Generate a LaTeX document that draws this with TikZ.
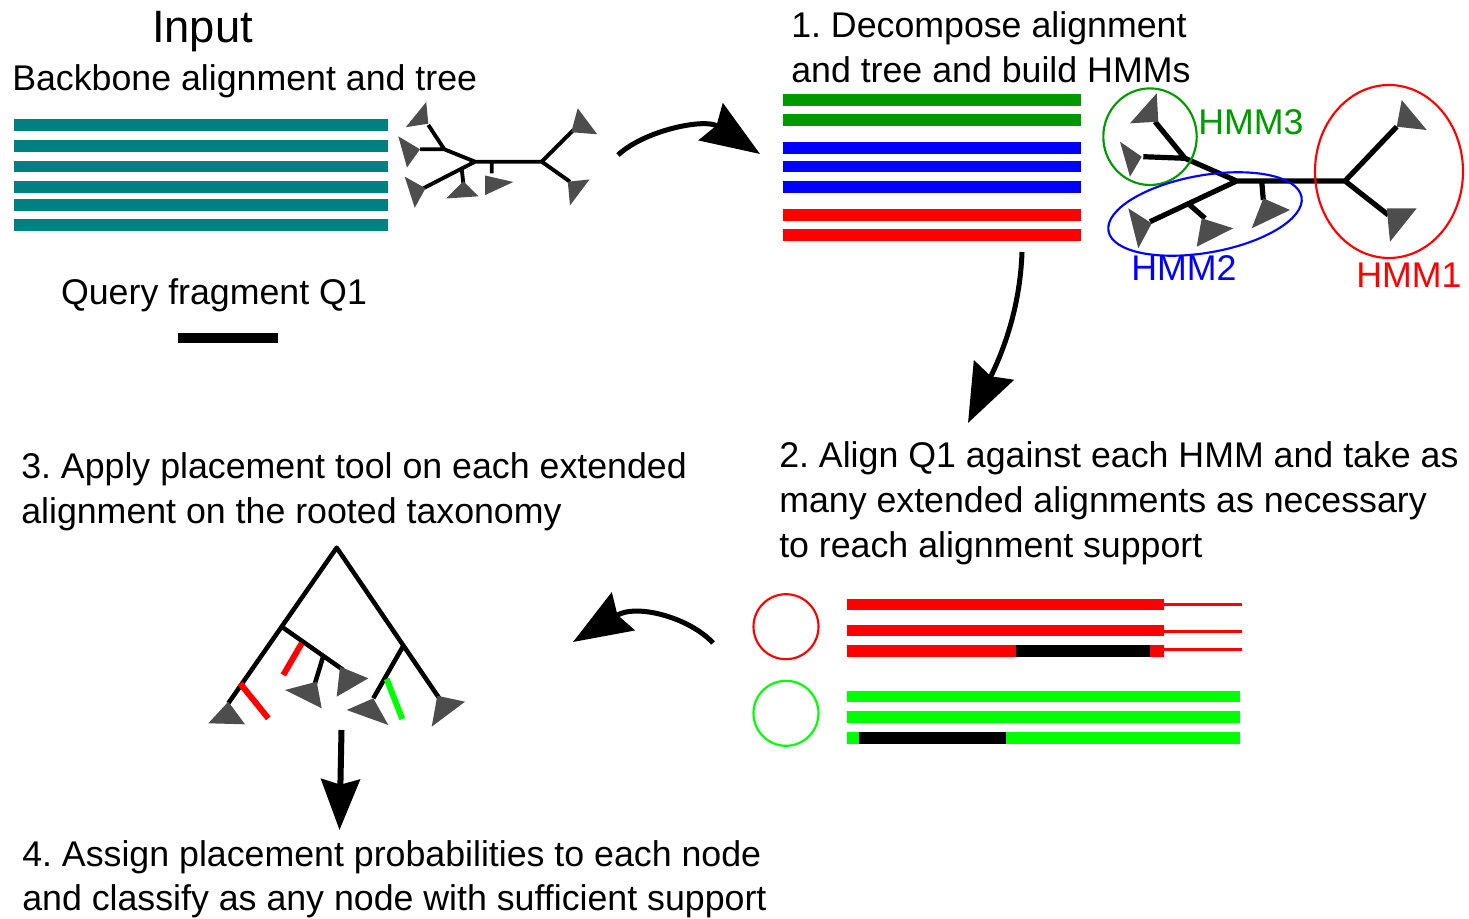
\documentclass[tikz,border=0pt]{standalone}
\usepackage{fontspec}
\setmainfont{Liberation Sans}
\frenchspacing
\usetikzlibrary{arrows.meta}
\definecolor{alnteal}{HTML}{008080}
\definecolor{hmmgreen}{HTML}{009900}
\definecolor{hmmblue}{HTML}{0000FF}
\definecolor{hmmred}{HTML}{FF0000}
\definecolor{litegreen}{HTML}{00FF00}
\definecolor{cladegray}{HTML}{4D4D4D}
\begin{document}
\begin{tikzpicture}[x=0.75pt,y=-0.75pt,
  txt/.style={font=\fontsize{26.8}{33.75}\selectfont, inner sep=0pt, anchor=base west},
  bar/.style={line width=8.6pt},
  thinbar/.style={line width=2.25pt},
  branch/.style={line width=2.9pt, line join=round},
  bigbranch/.style={line width=3.9pt, line join=round},
  midbranch/.style={line width=3.4pt, line join=round},
  clade/.style={fill=cladegray},
  ring/.style={line width=1.6pt},
  marker/.style={line width=4.5pt},
  flow/.style={line width=3.75pt, -{Stealth[length=44pt,width=33pt,inset=5pt]}},
  downflow/.style={line width=4.5pt, -{Stealth[length=38pt,width=29pt,inset=4pt]}}]
\useasboundingbox (0,0) rectangle (1469,919);

% ---------- Input ----------
\node[font=\fontsize{34}{40}\selectfont, inner sep=0pt, anchor=base] (title) at (202.5,43) {Input};
\node[txt] (backbone) at (12,91) {Backbone alignment and tree};
\foreach \y in {125,146,166.7,187,205,225}
  \draw[bar,alnteal] (14,\y) -- (388,\y);
\node[txt, anchor=base] (query) at (214,305) {Query fragment Q1};
\draw[line width=7.5pt] (178,338) -- (278,338);

% backbone tree
\coordinate (tA) at (475,161.7);
\coordinate (tB) at (541.7,161.7);
\coordinate (tC) at (444.3,149.3);
\coordinate (tD) at (461.7,168.5);
\coordinate (tE) at (491.7,161.7);
\coordinate (t1) at (428.3,125);
\coordinate (t2) at (420,149.3);
\coordinate (t3) at (423.3,188.3);
\coordinate (t4) at (463.3,183.3);
\coordinate (t5) at (491.7,173.3);
\coordinate (t6) at (573.3,130);
\coordinate (t7) at (570,181.7);
\draw[branch] (tA) -- (tB) (tA) -- (tC) (tC) -- (t1) (tC) -- (t2)
  (tA) -- (t3) (tD) -- (t4) (tE) -- (t5) (tB) -- (t6) (tB) -- (t7);
\fill[clade, scale around={1.3:(t1)}] (426.7,107.3) -- (411,126.7) -- (428.3,124) -- cycle;
\fill[clade, scale around={1.3:(t2)}] (403.3,139.3) -- (410,163.3) -- (420,149.3) -- cycle;
\fill[clade, scale around={1.3:(t3)}] (409,179.3) -- (416.7,203.3) -- (425,188.3) -- cycle;
\fill[clade, scale around={1.3:(t4)}] (463.3,181.7) -- (450,195) -- (475,193.3) -- cycle;
\fill[clade, scale around={1.3:(t5)}] (486.7,175) -- (508.3,180) -- (486.7,190) -- cycle;
\fill[clade, scale around={1.3:(t6)}] (576.7,113.3) -- (591.7,133.3) -- (571.7,131.7) -- cycle;
\fill[clade, scale around={1.3:(t7)}] (568.3,181.7) -- (585,180) -- (570,200) -- cycle;

% ---------- Step 1 ----------
\node[txt] (s1a) at (791,38) {1. Decompose alignment};
\node[txt] (s1b) at (791,83) {and tree and build HMMs};
\draw[bar,hmmgreen] (783.3,99.8) -- (1080.7,99.8);
\draw[bar,hmmgreen] (783.3,120) -- (1080.7,120);
\draw[bar,hmmblue] (783.3,147.8) -- (1080.7,147.8);
\draw[bar,hmmblue] (783.3,166.7) -- (1080.7,166.7);
\draw[bar,hmmblue] (783.3,186.8) -- (1080.7,186.8);
\draw[bar,hmmred] (783.3,214.8) -- (1080.7,214.8);
\draw[bar,hmmred] (783.3,235.2) -- (1080.7,235.2);

% decomposed tree
\coordinate (R) at (1345,181);
\coordinate (N1) at (1236.7,181);
\coordinate (N2) at (1188.3,203.7);
\coordinate (N3) at (1185,158.3);
\coordinate (N4) at (1261.7,181);
\coordinate (r1) at (1396.7,126.7);
\coordinate (r2) at (1388.3,215);
\coordinate (g1) at (1155,121.7);
\coordinate (g2) at (1143.3,156.7);
\coordinate (b1) at (1150,221.7);
\coordinate (b2) at (1205,218.3);
\coordinate (b3) at (1263.3,200);
\draw[bigbranch] (R) -- (N1) (R) -- (r1) (R) -- (r2) (N1) -- (N3) (N3) -- (g1)
  (N3) -- (g2) (N1) -- (b1) (N2) -- (b2) (N4) -- (b3);
\fill[clade] (1401.7,100) -- (1426.7,130) -- (1396.7,126.7) -- cycle;
\fill[clade] (1386.7,208.3) -- (1416.7,208.3) -- (1390,241.7) -- cycle;
\fill[clade] (1156.7,93.3) -- (1130,123.3) -- (1158.3,121.7) -- cycle;
\fill[clade] (1120,141.7) -- (1141.7,156.7) -- (1130,176.7) -- cycle;
\fill[clade] (1128.3,208.3) -- (1151.7,223.3) -- (1138.3,248.3) -- cycle;
\fill[clade] (1201.7,218.3) -- (1233.3,228.3) -- (1196.7,246.7) -- cycle;
\fill[clade] (1263.3,198.3) -- (1290,210) -- (1251.7,228.3) -- cycle;
\draw[ring,hmmgreen] (1150,136.7) ellipse [x radius=46.7, y radius=48.3];
\draw[ring,hmmblue,rotate around={10:(1205,214)}] (1205,214) ellipse [x radius=98, y radius=38.7];
\draw[ring,hmmred] (1389,171.5) ellipse [x radius=74, y radius=86.5];
\node[txt,text=hmmgreen] (hmm3) at (1198,135) {HMM3};
\node[txt,text=hmmblue] (hmm2) at (1131,281) {HMM2};
\node[txt,text=hmmred] (hmm1) at (1356,288) {HMM1};

% ---------- Step 2 ----------
\node[txt] (s2a) at (779,467) {2. Align Q1 against each HMM and take as};
\node[txt] (s2b) at (779,512) {many extended alignments as necessary};
\node[txt] (s2c) at (779,557) {to reach alignment support};
\draw[ring,hmmred] (786,626.7) circle [radius=32.5];
\draw[ring,litegreen] (786,713.3) circle [radius=32.5];
\draw[thinbar,hmmred] (1160,604) -- (1241.7,604);
\draw[thinbar,hmmred] (1160,631) -- (1241.7,631);
\draw[thinbar,hmmred] (1160,649.3) -- (1241.7,649.3);
\draw[bar,hmmred] (846.7,604.5) -- (1164,604.5);
\draw[bar,hmmred] (846.7,630.3) -- (1164,630.3);
\draw[bar,hmmred] (846.7,651) -- (1164,651);
\draw[bar] (1016,651) -- (1150,651);
\draw[bar,litegreen] (846.7,696.7) -- (1240,696.7);
\draw[bar,litegreen] (846.7,717.2) -- (1240,717.2);
\draw[bar,litegreen] (846.7,737.8) -- (1240,737.8);
\draw[bar] (859.3,737.8) -- (1005.7,737.8);

% ---------- Step 3 ----------
\node[txt] (s3a) at (21,478) {3. Apply placement tool on each extended};
\node[txt] (s3b) at (21,523) {alignment on the rooted taxonomy};
\coordinate (P) at (336.7,547.7);
\coordinate (La) at (228.3,703.3);
\coordinate (Ra) at (439.3,698.3);
\coordinate (L) at (281.7,626.7);
\coordinate (Le) at (343.3,670);
\coordinate (M) at (323.3,656);
\coordinate (Me) at (315,683.3);
\coordinate (Rn) at (403.4,645.6);
\coordinate (Re) at (373.3,698.3);
\draw[midbranch] (La) -- (P) -- (Ra) (L) -- (Le) (M) -- (Me) (Rn) -- (Re);
\fill[clade] (228.3,701.7) -- (208.3,723.3) -- (245,724.3) -- cycle;
\fill[clade] (437.3,695.7) -- (465,701.7) -- (431.7,726.7) -- cycle;
\fill[clade] (340,666.7) -- (368.3,678.3) -- (336.7,696.7) -- cycle;
\fill[clade] (316.7,681.7) -- (285,690) -- (321.7,708.3) -- cycle;
\fill[clade] (373.3,698.3) -- (346.7,710) -- (388.3,725) -- cycle;
\draw[marker,hmmred] (240,683.3) -- (268.3,718.3);
\draw[marker,hmmred] (301.7,643.3) -- (283.3,675);
\draw[marker,litegreen] (386.7,679) -- (402.3,719);

% ---------- Step 4 ----------
\node[txt] (s4a) at (22,866) {4. Assign placement probabilities to each node};
\node[txt] (s4b) at (22,910) {and classify as any node with sufficient support};

% ---------- flow arrows ----------
\coordinate (f1s) at (618,155);
\coordinate (f1e) at (760,154);
\coordinate (f2s) at (1022,252);
\coordinate (f2e) at (968,423);
\coordinate (f3s) at (713,643);
\coordinate (f3e) at (573,642);
\coordinate (f4s) at (341.5,730);
\coordinate (f4e) at (339.5,830);
\draw[flow] (f1s) .. controls (645,130) and (705,118) .. (f1e);
\draw[flow] (f2s) .. controls (1020,310) and (1001.8,354) .. (f2e);
\draw[flow] (f3s) .. controls (690,618) and (637,603) .. (f3e);
\draw[downflow] (f4s) -- (f4e);
\end{tikzpicture}
\end{document}
